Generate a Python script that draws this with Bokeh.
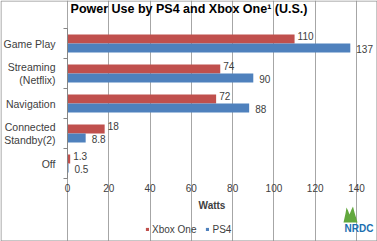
from bokeh.plotting import figure
from bokeh.models import (Range1d, ColumnDataSource, LabelSet, Legend, LegendItem, Label,
                          FixedTicker, PolyAnnotation, BoxAnnotation)
from bokeh.core.properties import value
from bokeh.transform import dodge
from bokeh.embed import file_html
from bokeh.resources import INLINE

# ---- data ----
categories = ["Game Play", "Streaming (Netflix)", "Navigation", "Connected Standby(2)", "Off"]
tick_labels = ["Game Play", "Streaming\n\u00a0\u00a0(Netflix)", "Navigation",
               "Connected\nStandby(2)", "Off"]
xbox_one = [110, 74, 72, 18, 1.3]
ps4 = [137, 90, 88, 8.8, 0.5]
x_ticks = [0, 20, 40, 60, 80, 100, 120, 140]
series_names = ["Xbox One", "PS4"]
title_text = "Power Use by PS4 and Xbox One\u00b9 (U.S.)"
x_label = "Watts"

RED = "#c0504d"
BLUE = "#4f81bd"
TXT = "#404040"
GRID = "#a6a6a6"
FONT = "Liberation Sans"

# ---- layout geometry (page pixels); the frame covers the whole canvas ----
W, H = 377, 241
PL, PR, PT, PB = 67, 356, 28, 178        # plot-area edges
n = len(categories)
xmax = x_ticks[-1]
kx = (PR - PL) / xmax                    # px per watt
ky = (PB - PT) / n                       # px per category band
ypos = list(range(n - 1, -1, -1))        # top category highest

src = ColumnDataSource(dict(
    y=ypos,
    cat=categories,
    xbox=xbox_one,
    ps4=ps4,
    xbox_lbl=[f"{v:g}" for v in xbox_one],
    ps4_lbl=[f"{v:g}" for v in ps4],
))

p = figure(width=W, height=H, output_backend="svg", toolbar_location=None, title=None,
           x_range=Range1d(-PL / kx, xmax + (W - PR) / kx),
           y_range=Range1d(-0.5 - (H - PB) / ky, n - 0.5 + PT / ky),
           min_border=0, min_border_left=0, min_border_right=0,
           min_border_top=0, min_border_bottom=0)
p.outline_line_color = None
p.background_fill_color = "white"
p.border_fill_color = "white"

r_x = p.hbar(y=dodge("y", 0.15), right="xbox", left=0, height=0.3,
             source=src, fill_color=RED, line_color=None)
r_p = p.hbar(y=dodge("y", -0.15), right="ps4", left=0, height=0.3,
             source=src, fill_color=BLUE, line_color=None)

lbl_style = dict(text_font_size=value("10px"), text_color=TXT, text_font=value(FONT),
                 text_baseline="middle")
p.add_layout(LabelSet(x="xbox", y=dodge("y", 0.15), text="xbox_lbl",
                      source=src, x_offset=3, y_offset=3, **lbl_style))
p.add_layout(LabelSet(x="ps4", y=dodge("y", -0.15), text="ps4_lbl",
                      source=src, x_offset=6, y_offset=-1, **lbl_style))

# ---- axes (drawn inside the frame at fixed locations) ----
xa = p.xaxis[0]
xa.fixed_location = -0.5
xa.bounds = (0, xmax)
xa.ticker = FixedTicker(ticks=x_ticks, minor_ticks=[])
xa.axis_line_color = None
xa.major_tick_line_color = GRID
xa.major_tick_out = 3
xa.major_tick_in = 0
xa.major_label_standoff = 2
xa.major_label_text_font_size = "10px"
xa.major_label_text_color = TXT
xa.major_label_text_font = FONT
xa.axis_label = x_label
xa.axis_label_text_font = FONT
xa.axis_label_text_font_style = "bold"
xa.axis_label_text_font_size = "10px"
xa.axis_label_text_color = TXT
xa.axis_label_standoff = 5

ya = p.yaxis[0]
ya.fixed_location = 0
ya.bounds = (-0.5, n - 0.5)
ya.ticker = FixedTicker(ticks=ypos, minor_ticks=[v + 0.5 for v in ypos] + [-0.5])
ya.major_label_overrides = {y: t for y, t in zip(ypos, tick_labels)}
ya.axis_line_color = "#868686"
ya.major_tick_line_color = None
ya.minor_tick_line_color = "#868686"
ya.minor_tick_out = 4
ya.minor_tick_in = 0
ya.major_label_standoff = 6
ya.major_label_text_font_size = "10.5px"
ya.major_label_text_color = TXT
ya.major_label_text_font = FONT
ya.major_label_text_line_height = 1.1

p.xgrid.grid_line_color = GRID
p.xgrid.bounds = (-0.5, n - 0.5)
p.ygrid.grid_line_color = None

# ---- title ----
p.add_layout(Label(x=W / 2, y=H - 8, x_units="screen", y_units="screen",
                   text=title_text, text_align="center", text_baseline="middle",
                   text_font=FONT, text_font_size="12.5px", text_font_style="bold",
                   text_color="#000000"))

# ---- legend ----
legend = Legend(items=[LegendItem(label=series_names[0], renderers=[r_x]),
                       LegendItem(label=series_names[1], renderers=[r_p])],
                orientation="horizontal", location=(145, H - 235),
                glyph_width=4, glyph_height=4, label_text_font_size="10px",
                label_text_color=TXT, label_text_font=FONT, label_standoff=3,
                spacing=9, padding=0, margin=0, border_line_color=None,
                background_fill_alpha=0, label_height=12)
p.add_layout(legend, "center")

# ---- NRDC logo ----
tree_x = [343, 345, 346, 347.5, 349, 351, 352.5, 354, 357]
tree_y = [222, 213, 207, 210, 214, 209, 206, 212, 222]
p.add_layout(PolyAnnotation(xs=tree_x, ys=[H - y for y in tree_y],
                            xs_units="screen", ys_units="screen",
                            fill_color="#62a83e", fill_alpha=1, line_color=None))
p.add_layout(Label(x=344, y=H - 228, x_units="screen", y_units="screen",
                   text="NRDC", text_baseline="middle",
                   text_font=FONT, text_font_style="bold", text_font_size="10px",
                   text_color="#1b6fb0"))

# ---- outer border ----
p.add_layout(BoxAnnotation(left=0.5, right=W - 0.5, bottom=0.5, top=H - 0.5,
                           left_units="screen", right_units="screen",
                           top_units="screen", bottom_units="screen",
                           fill_color=None, fill_alpha=0, line_color="#8f8f8f",
                           line_width=1, line_alpha=1))

open("out.html", "w").write(file_html(p, INLINE))
